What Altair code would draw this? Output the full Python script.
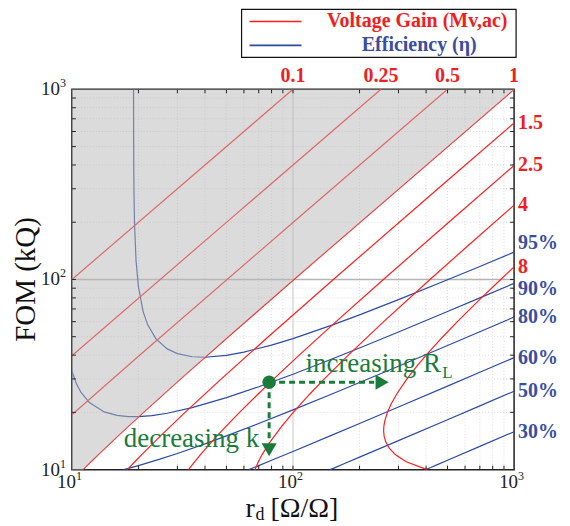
import altair as alt
import pandas as pd

# ---------------- voltage-gain contours (r_d, FOM) ----------------
gain_names = ["0.1", "0.25", "0.5", "1", "1.5", "2.5", "4", "8"]
g01_r = [10, 100]
g01_F = [99.9, 1000]
g025_r = [10, 50, 250]
g025_F = [39.72, 199.75, 1000]
g05_r = [10, 20, 100, 500.25]
g05_F = [19.43, 39.47, 199.5, 1000]
g1_r = [11.22, 12.2, 13.18, 16.14, 21.1, 31.07, 51.04, 101.0, 1000]
g1_F = [10, 11, 12, 15, 20, 30, 50, 100, 999]
g15_r = [17.82, 19.26, 20.71, 25.11, 32.51, 47.42, 77.35, 152.3, 452.3, 1000]
g15_F = [10, 11, 12, 15, 20, 30, 50, 100, 300, 665.2]
g25_r = [33.67, 35.88, 38.16, 45.2, 57.29, 69.56, 81.9, 106.7, 156.6, 256.4, 506.3, 1000]
g25_F = [10, 11, 12, 15, 20, 25, 30, 40, 60, 100, 200, 397.5]
g4_r = [67.33, 69.71, 72.5, 78.8, 89.23, 100.25, 119.2, 138.6, 177.9, 257.2, 416.7, 616.5, 1000]
g4_F = [10, 11, 12, 14, 17, 20, 25, 30, 40, 60, 100, 150, 246]
g8_r = [404, 325.3, 290, 272, 262.7, 258.3, 257, 257.8, 260, 267.3, 277.1, 294.6, 327.6,
        363.3, 400.25, 476.4, 554, 711.2, 869.7, 1000]
g8_F = [10, 11, 12, 13, 14, 15, 16, 17, 18, 20, 22, 25, 30, 35, 40, 50, 60, 80, 100, 116.4]

# ---------------- efficiency contours ----------------
eff_labels = ["95%", "90%", "80%", "60%", "50%", "30%"]
e95_r = [19.0076, 19.008, 19.01, 19.02, 19.05, 19.1, 19.2, 19.5, 20, 21, 22, 24, 27, 30, 35,
         40, 50, 60, 80, 100, 150, 200, 300, 500, 700, 1000]
e95_F = [1000, 975, 874, 617, 391.8, 277, 196.9, 126.4, 91.5, 67.8, 57.9, 48.7, 43.15, 40.74,
         39.23, 39.0, 39.93, 41.53, 45.2, 48.9, 57.5, 65.1, 78.3, 99.6, 117.1, 139.3]
e90_r = [10, 10.5, 11, 12, 14, 16, 18, 20, 23, 27, 35, 50, 70, 100, 150, 200, 300, 500, 700, 1000]
e90_F = [33.0, 28.17, 25.46, 22.52, 20.12, 19.28, 19.0, 18.99, 19.24, 19.8, 21.18, 23.9, 27.27,
         31.76, 38.15, 43.6, 52.9, 67.8, 80.0, 95.4]
e80_r = [17.09, 17.5, 18, 20, 25, 30, 40, 50, 70, 100, 150, 200, 300, 500, 700, 1000]
e80_F = [10, 10.07, 10.15, 10.5, 11.35, 12.16, 13.67, 15.04, 17.48, 20.62, 24.99, 28.71, 34.99,
         44.99, 53.14, 63.44]
e60_r = [63.07, 65, 70, 80, 100, 150, 200, 300, 500, 700, 1000]
e60_F = [10, 10.14, 10.5, 11.2, 12.46, 15.18, 17.47, 21.34, 27.48, 32.49, 38.8]
e50_r = [147.3, 155, 170, 200, 300, 500, 700, 1000]
e50_F = [10, 10.25, 10.73, 11.63, 14.2, 18.31, 21.64, 25.85]
e30_r = [397.7, 420, 450, 500, 700, 1000]
e30_F = [10, 10.27, 10.63, 11.2, 13.25, 15.83]

# ---------------- axes / ticks ----------------
axis_values = [10, 100, 1000]
axis_base = ["10", "10", "10"]
axis_exp = ["1", "2", "3"]
minor_ticks = [20, 30, 40, 50, 60, 70, 80, 90, 200, 300, 400, 500, 600, 700, 800, 900]
major_ticks = [100]
top_gain_labels = ["0.1", "0.25", "0.5", "1"]
top_gain_r = [100, 250, 500, 1000]
right_gain_labels = ["1.5", "2.5", "4", "8"]

# ---------------- build tables ----------------
gain_r = [g01_r, g025_r, g05_r, g1_r, g15_r, g25_r, g4_r, g8_r]
gain_F = [g01_F, g025_F, g05_F, g1_F, g15_F, g25_F, g4_F, g8_F]
eff_r = [e95_r, e90_r, e80_r, e60_r, e50_r, e30_r]
eff_F = [e95_F, e90_F, e80_F, e60_F, e50_F, e30_F]

rows = []
for name, rs, Fs in zip(gain_names, gain_r, gain_F):
    for i, (a, b) in enumerate(zip(rs, Fs)):
        rows.append({"curve": "M" + name, "kind": "gain", "i": i, "r": a, "F": b})
for name, rs, Fs in zip(eff_labels, eff_r, eff_F):
    for i, (a, b) in enumerate(zip(rs, Fs)):
        rows.append({"curve": "E" + name, "kind": "eff", "i": i, "r": a, "F": b})
lines_df = pd.DataFrame(rows)

gray_df = pd.DataFrame({"r": [10] + g1_r, "F": [10] + g1_F, "top": 1000})

right_gain_df = pd.DataFrame({
    "lab": right_gain_labels,
    "F": [g15_F[-1], g25_F[-1], g4_F[-1], g8_F[-1]],
})
eff_lab_df = pd.DataFrame({"lab": eff_labels, "F": [c[-1] for c in eff_F]})
top_df = pd.DataFrame({"lab": top_gain_labels, "r": top_gain_r})
minor_df = pd.DataFrame({"v": minor_ticks})
major_df = pd.DataFrame({"v": major_ticks})
ticks_df = pd.DataFrame({"v": minor_ticks + major_ticks})
axlab_df = pd.DataFrame({"v": axis_values, "base": axis_base, "exp": axis_exp})
one = pd.DataFrame({"a": [0]})

W, H = 443, 381
RED = "#ff1f1f"
BLUE = "#2c4aa0"
RED_T = "#f01e23"
BLUE_T = "#3a4d9f"
GREEN = "#1b7b3a"
SERIF = "Liberation Serif"

xs = alt.Scale(type="log", domain=[10, 1000], nice=False)
ys = alt.Scale(type="log", domain=[10, 1000], nice=False)

X = lambda f: alt.X(f, scale=xs, axis=None)
Y = lambda f: alt.Y(f, scale=ys, axis=None)

layers = []
# grid
layers.append(alt.Chart(minor_df).mark_rule(color="#d2d2d2", strokeWidth=0.8, strokeDash=[1, 2])
              .encode(x=X("v:Q"), y=alt.value(0), y2=alt.value(H)))
layers.append(alt.Chart(minor_df).mark_rule(color="#d2d2d2", strokeWidth=0.8, strokeDash=[1, 2])
              .encode(y=Y("v:Q"), x=alt.value(0), x2=alt.value(W)))
layers.append(alt.Chart(major_df).mark_rule(color="#c6c6c6", strokeWidth=1)
              .encode(x=X("v:Q"), y=alt.value(0), y2=alt.value(H)))
layers.append(alt.Chart(major_df).mark_rule(color="#b4b4b4", strokeWidth=1.6)
              .encode(y=Y("v:Q"), x=alt.value(0), x2=alt.value(W)))

# contour lines
layers.append(alt.Chart(lines_df).transform_filter("datum.kind == 'eff'")
              .mark_line(color=BLUE, strokeWidth=1.2)
              .encode(x=X("r:Q"), y=Y("F:Q"), detail="curve:N", order="i:Q"))
layers.append(alt.Chart(lines_df).transform_filter("datum.kind == 'gain'")
              .mark_line(color=RED, strokeWidth=1.2)
              .encode(x=X("r:Q"), y=Y("F:Q"), detail="curve:N", order="i:Q"))

# gray region (M < 1)
layers.append(alt.Chart(gray_df).mark_area(color="#b8b8b8", opacity=0.5)
              .encode(x=X("r:Q"), y=Y("F:Q"), y2="top:Q"))

# inward ticks
TL = 4
layers.append(alt.Chart(ticks_df).mark_rule(color="#222", strokeWidth=1)
              .encode(x=X("v:Q"), y=alt.value(H), y2=alt.value(H - TL)))
layers.append(alt.Chart(ticks_df).mark_rule(color="#222", strokeWidth=1)
              .encode(x=X("v:Q"), y=alt.value(0), y2=alt.value(TL)))
layers.append(alt.Chart(ticks_df).mark_rule(color="#222", strokeWidth=1)
              .encode(y=Y("v:Q"), x=alt.value(0), x2=alt.value(TL)))
layers.append(alt.Chart(ticks_df).mark_rule(color="#222", strokeWidth=1)
              .encode(y=Y("v:Q"), x=alt.value(W), x2=alt.value(W - TL)))

# axis tick labels (10 with superscript exponent)
lab_style = dict(color="#222", font=SERIF)
layers.append(alt.Chart(axlab_df).mark_text(fontSize=19, align="right", baseline="middle",
                                            dx=4, **lab_style)
              .encode(x=X("v:Q"), y=alt.value(H + 12), text="base:N"))
layers.append(alt.Chart(axlab_df).mark_text(fontSize=12, align="left", baseline="middle",
                                            dx=4, dy=-6, **lab_style)
              .encode(x=X("v:Q"), y=alt.value(H + 12), text="exp:N"))
layers.append(alt.Chart(axlab_df).mark_text(fontSize=19, align="right", baseline="middle",
                                            **lab_style)
              .encode(y=Y("v:Q"), x=alt.value(-12), text="base:N"))
layers.append(alt.Chart(axlab_df).mark_text(fontSize=12, align="left", baseline="middle",
                                            dy=-6, **lab_style)
              .encode(y=Y("v:Q"), x=alt.value(-12), text="exp:N"))

# green annotation
dot_r, dot_F = 78, 28.8
h_df = pd.DataFrame({"r": [dot_r], "r2": [233], "F": [dot_F]})
v_df = pd.DataFrame({"r": [dot_r], "F": [dot_F], "F2": [13.9]})
layers.append(alt.Chart(h_df).mark_rule(color=GREEN, strokeWidth=3, strokeDash=[6, 4])
              .encode(x=X("r:Q"), x2="r2:Q", y=Y("F:Q")))
layers.append(alt.Chart(v_df).mark_rule(color=GREEN, strokeWidth=3, strokeDash=[6, 4])
              .encode(x=X("r:Q"), y=Y("F:Q"), y2="F2:Q"))
layers.append(alt.Chart(pd.DataFrame({"r": [253], "F": [dot_F]}))
              .mark_point(shape="triangle-right", filled=True, color=GREEN, size=230, opacity=1)
              .encode(x=X("r:Q"), y=Y("F:Q")))
layers.append(alt.Chart(pd.DataFrame({"r": [dot_r], "F": [12.73]}))
              .mark_point(shape="triangle-down", filled=True, color=GREEN, size=230, opacity=1)
              .encode(x=X("r:Q"), y=Y("F:Q")))
layers.append(alt.Chart(pd.DataFrame({"r": [dot_r], "F": [dot_F]}))
              .mark_circle(color=GREEN, size=180, opacity=1)
              .encode(x=X("r:Q"), y=Y("F:Q")))
layers.append(alt.Chart(pd.DataFrame({"r": [113.9], "F": [32.7], "t": ["increasing R"]}))
              .mark_text(color=GREEN, font=SERIF, fontSize=27, align="left", baseline="alphabetic")
              .encode(x=X("r:Q"), y=Y("F:Q"), text="t:N"))
layers.append(alt.Chart(pd.DataFrame({"r": [473], "F": [30.4], "t": ["L"]}))
              .mark_text(color=GREEN, font=SERIF, fontSize=17, align="left", baseline="alphabetic")
              .encode(x=X("r:Q"), y=Y("F:Q"), text="t:N"))
layers.append(alt.Chart(pd.DataFrame({"r": [17.17], "F": [13.2], "t": ["decreasing k"]}))
              .mark_text(color=GREEN, font=SERIF, fontSize=27, align="left", baseline="alphabetic")
              .encode(x=X("r:Q"), y=Y("F:Q"), text="t:N"))

# curve labels
layers.append(alt.Chart(top_df).mark_text(color=RED_T, font=SERIF, fontSize=20, fontWeight="bold",
                                          align="center", baseline="middle")
              .encode(x=X("r:Q"), y=alt.value(-13), text="lab:N"))
layers.append(alt.Chart(right_gain_df).mark_text(color=RED_T, font=SERIF, fontSize=20,
                                                 fontWeight="bold", align="left", baseline="middle")
              .encode(x=alt.value(W + 4), y=Y("F:Q"), text="lab:N"))
eff_text = dict(color=BLUE_T, font=SERIF, fontSize=20, fontWeight="bold", align="left",
                baseline="middle")
layers.append(alt.Chart(eff_lab_df).transform_filter("datum.lab == '95%'")
              .mark_text(dy=-9, **eff_text)
              .encode(x=alt.value(W + 4), y=Y("F:Q"), text="lab:N"))
layers.append(alt.Chart(eff_lab_df).transform_filter("datum.lab == '90%'")
              .mark_text(dy=6, **eff_text)
              .encode(x=alt.value(W + 4), y=Y("F:Q"), text="lab:N"))
layers.append(alt.Chart(eff_lab_df).transform_filter("datum.lab != '95%' && datum.lab != '90%'")
              .mark_text(**eff_text)
              .encode(x=alt.value(W + 4), y=Y("F:Q"), text="lab:N"))

# legend box
layers.append(alt.Chart(one).mark_rect(fill="white", stroke="#111", strokeWidth=1.2)
              .encode(x=alt.value(170), x2=alt.value(445), y=alt.value(-80), y2=alt.value(-32)))
layers.append(alt.Chart(one).mark_rule(color=RED, strokeWidth=1.6)
              .encode(x=alt.value(178), x2=alt.value(230), y=alt.value(-68)))
layers.append(alt.Chart(one).mark_rule(color=BLUE, strokeWidth=1.8)
              .encode(x=alt.value(178), x2=alt.value(230), y=alt.value(-44)))
layers.append(alt.Chart(one).mark_text(color=RED_T, font=SERIF, fontSize=20, fontWeight="bold",
                                       align="center", baseline="middle")
              .encode(x=alt.value(346), y=alt.value(-68), text=alt.value("Voltage Gain (Mv,ac)")))
layers.append(alt.Chart(one).mark_text(color=BLUE_T, font=SERIF, fontSize=20, fontWeight="bold",
                                       align="center", baseline="middle")
              .encode(x=alt.value(348), y=alt.value(-44), text=alt.value("Efficiency (\u03b7)")))

# axis titles
layers.append(alt.Chart(one).mark_text(color="#111", font=SERIF, fontSize=29, angle=270,
                                       align="center", baseline="alphabetic")
              .encode(x=alt.value(-37), y=alt.value(H / 2), text=alt.value("FOM (kQ)")))
layers.append(alt.Chart(one).mark_text(color="#111", font=SERIF, fontSize=28, align="left",
                                       baseline="alphabetic")
              .encode(x=alt.value(174), y=alt.value(H + 47), text=alt.value("r")))
layers.append(alt.Chart(one).mark_text(color="#111", font=SERIF, fontSize=18, align="left",
                                       baseline="alphabetic")
              .encode(x=alt.value(184), y=alt.value(H + 50), text=alt.value("d")))
layers.append(alt.Chart(one).mark_text(color="#111", font=SERIF, fontSize=28, align="left",
                                       baseline="alphabetic")
              .encode(x=alt.value(199), y=alt.value(H + 47), text=alt.value("[\u03a9/\u03a9]")))

chart = (
    alt.layer(*layers)
    .properties(width=W, height=H,
                padding={"left": 64, "top": 81, "right": 48, "bottom": 55},
                autosize=alt.AutoSizeParams(type="none"))
    .configure_view(stroke="#222", strokeWidth=1.5)
)

chart.save("out.html", embed_options={"renderer": "svg", "actions": False})
